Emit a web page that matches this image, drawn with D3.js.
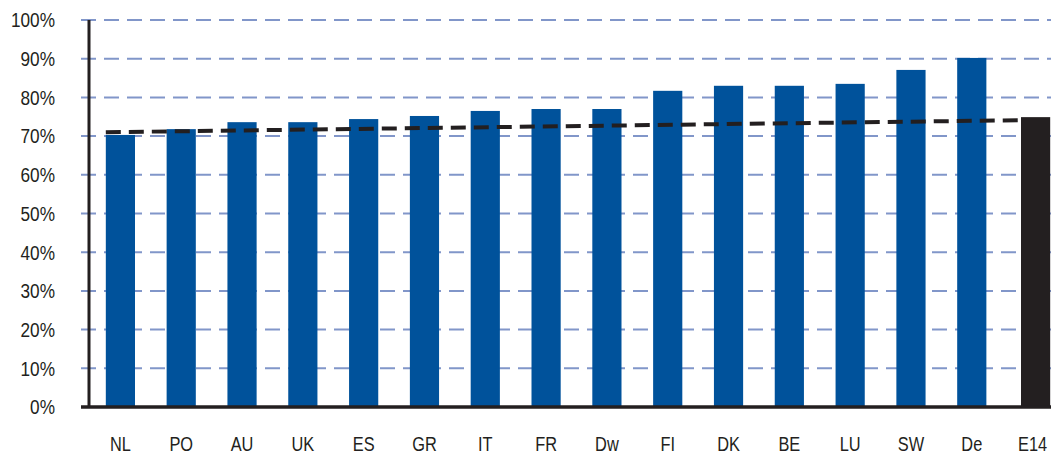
<!DOCTYPE html>
<html>
<head>
<meta charset="utf-8">
<script src="https://cdn.jsdelivr.net/npm/d3@7"></script>
<style>
  html, body { margin: 0; padding: 0; background: #fff; }
  svg { display: block; }
  .lbl { font-family: "Liberation Sans", Arial, sans-serif; fill: #231f20; }
</style>
</head>
<body>
<svg id="chart" width="1051" height="454"></svg>
<script>
// ── Data ──
const countries = ['NL', 'PO', 'AU', 'UK', 'ES', 'GR', 'IT', 'FR', 'Dw', 'FI', 'DK', 'BE', 'LU', 'SW', 'De', 'E14'];
const values    = [70.3, 71.8, 73.6, 73.6, 74.4, 75.2, 76.5, 77.0, 77.0, 81.7, 83.0, 83.0, 83.5, 87.1, 90.2, 74.9];
const highlight = 'E14';          // EU-14 average, drawn in black
const trendFrom = { cat: 'NL',  value: 71.0 };
const trendTo   = { cat: 'E14', value: 74.1 };
const yTicks    = [0, 10, 20, 30, 40, 50, 60, 70, 80, 90, 100];

// ── Layout ──
const svg = d3.select('#chart');
const W = 1051;
const plot = { left: 89, top: 20, bottom: 407 };
const narrow = 0.84; // condensed look for the labels

const x = d3.scaleBand()
  .domain(countries)
  .range([90, 1063])
  .paddingInner(0.52)
  .paddingOuter(0.26);

const y = d3.scaleLinear().domain([0, 100]).range([plot.bottom, plot.top]);

const rows = countries.map((c, i) => ({ c, v: values[i] }));

// gridlines (dashed, blue-grey)
svg.append('g')
  .selectAll('line')
  .data(yTicks.filter(t => t > 0))
  .join('line')
  .attr('x1', 81).attr('x2', W)
  .attr('y1', d => y(d)).attr('y2', d => y(d))
  .attr('stroke', '#8196c9')
  .attr('stroke-width', 2)
  .attr('stroke-dasharray', '15 8');

// y tick labels
svg.append('g')
  .selectAll('text')
  .data(yTicks)
  .join('text')
  .attr('class', 'lbl')
  .attr('transform', d => `translate(55,${y(d)}) scale(${narrow},1)`)
  .attr('dy', '0.36em')
  .attr('text-anchor', 'end')
  .attr('font-size', 20.5)
  .text(d => d + '%');

// country bars
const barG = svg.append('g');
barG.selectAll('rect')
  .data(rows.filter(d => d.c !== highlight))
  .join('rect')
  .attr('x', d => x(d.c))
  .attr('width', x.bandwidth())
  .attr('y', d => y(d.v))
  .attr('height', d => y(0) - y(d.v))
  .attr('fill', '#00529b');

// trend line over the country bars
svg.append('line')
  .attr('x1', x(trendFrom.cat)).attr('y1', y(trendFrom.value))
  .attr('x2', x(trendTo.cat)).attr('y2', y(trendTo.value))
  .attr('stroke', '#231f20')
  .attr('stroke-width', 4)
  .attr('stroke-dasharray', '15 8');

// E14 average bar on top
svg.append('g').selectAll('rect')
  .data(rows.filter(d => d.c === highlight))
  .join('rect')
  .attr('x', d => x(d.c) + 3)
  .attr('width', x.bandwidth())
  .attr('y', d => y(d.v))
  .attr('height', d => y(0) - y(d.v))
  .attr('fill', '#231f20');

// axes lines
svg.append('line')
  .attr('x1', plot.left).attr('x2', plot.left)
  .attr('y1', plot.top).attr('y2', plot.bottom)
  .attr('stroke', '#231f20').attr('stroke-width', 3);
svg.append('line')
  .attr('x1', 81).attr('x2', W)
  .attr('y1', plot.bottom).attr('y2', plot.bottom)
  .attr('stroke', '#231f20').attr('stroke-width', 3.5);

// x labels
svg.append('g')
  .selectAll('text')
  .data(countries)
  .join('text')
  .attr('class', 'lbl')
  .attr('transform', d => `translate(${x(d) + x.bandwidth() / 2},451) scale(${narrow},1)`)
  .attr('text-anchor', 'middle')
  .attr('font-size', 19.5)
  .text(d => d);
</script>
</body>
</html>
